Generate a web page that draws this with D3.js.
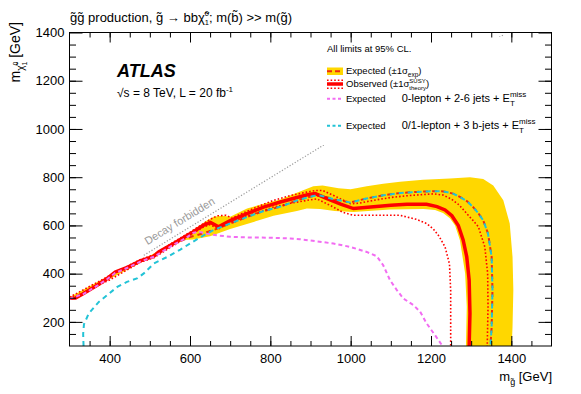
<!DOCTYPE html>
<html>
<head>
<meta charset="utf-8">
<script src="https://cdn.jsdelivr.net/npm/d3@7"></script>
<style>
  body { margin: 0; background: #fff; }
  svg { font-family: "Liberation Sans", Arial, Helvetica, sans-serif; }
</style>
</head>
<body>
<svg id="chart" width="581" height="394"></svg>
<script>
"use strict";

// axis ranges and tick values
const xDomain = [300, 1500],
      yDomain = [100, 1400];
const xTicks = [400, 600, 800, 1000, 1200, 1400];
const yTicks = [200, 400, 600, 800, 1000, 1200, 1400];
const xMinor = d3.range(350, 1500, 50);
const yMinor = d3.range(150, 1400, 50);

// kinematic boundary (decay forbidden above)
const decayLine = [[485, 476], [1380, 1390]];

// +-1 sigma expected band edges
const bandUpper = [[300,302],[400,393],[500,474],[560,532],[600,572],[640,618],[659,636],[680,640],[700,636],[742,670],[783,690],[825,708],[866,735],[907,762],[930,766],[970,754],[1000,750],[1040,762],[1081,773],[1123,781],[1180,789],[1247,795],[1297,800],[1330,792],[1355,766],[1380,704],[1396,608],[1403,469],[1405,332],[1403,180],[1401,100]];
const bandLower = [[300,294],[400,378],[500,465],[560,520],[585,540],[608,542],[650,555],[700,585],[750,610],[808,640],[866,660],[891,670],[924,668],[960,660],[1007,656],[1098,666],[1181,668],[1210,664],[1230,652],[1247,630],[1260,600],[1272,539],[1285,401],[1289,263],[1287,100]];

// expected limit (combined)
const expected = [[300,296],[335,316],[369,350],[394,378],[414,405],[447,426],[476,451],[510,470],[559,522],[600,552],[630,566],[660,582],[700,608],[742,635],[780,658],[825,678],[874,708],[907,722],[924,724],[960,708],[999,695],[1040,712],[1081,725],[1123,734],[1164,739],[1206,742],[1231,741],[1255,732],[1272,718],[1290,700],[1305,676],[1318,650],[1330,621],[1342,566],[1351,469],[1353,332],[1351,180],[1348,100]];

// observed limit and its theory +-1 sigma
const observed = [[300,298],[315,299],[335,318],[369,352],[394,380],[414,407],[447,428],[476,453],[510,472],[522,490],[559,525],[601,566],[634,601],[651,612],[671,594],[700,620],[742,649],[783,676],[825,697],[866,716],[895,728],[912,732],[941,711],[975,688],[1007,670],[1057,677],[1100,684],[1140,688],[1189,688],[1215,678],[1235,664],[1252,640],[1268,600],[1280,540],[1289,470],[1295,373],[1297,236],[1295,100]];
const obsUp = [[300,302],[400,392],[476,458],[510,478],[560,532],[600,572],[634,608],[650,625],[668,640],[690,642],[705,630],[725,646],[766,676],[808,704],[850,724],[891,738],[912,745],[930,745],[960,722],[1000,690],[1020,692],[1057,704],[1100,716],[1140,723],[1180,728],[1206,731],[1230,726],[1250,710],[1270,685],[1289,649],[1305,620],[1318,594],[1334,511],[1341,401],[1342,263],[1340,100]];
const obsDown = [[300,294],[400,374],[476,447],[510,466],[560,518],[600,560],[634,594],[650,603],[671,586],[700,612],[725,628],[766,652],[808,676],[850,692],[891,704],[916,710],[949,683],[980,655],[1007,642],[1057,642],[1123,642],[1164,625],[1189,608],[1206,585],[1220,555],[1235,511],[1246,440],[1249,330],[1249,100]];

// other analyses, expected
const zeroLepton = [[300,296],[335,316],[369,350],[394,378],[414,403],[447,426],[476,450],[510,470],[559,520],[590,548],[609,570],[625,573],[642,566],[667,559],[700,553],[750,550],[800,549],[850,546],[874,543],[916,534],[957,525],[999,511],[1040,490],[1065,472],[1081,435],[1098,373],[1115,332],[1131,297],[1156,270],[1173,242],[1189,194],[1210,145],[1227,104],[1229,100]];
const threeB = [[335,100],[334,150],[336,190],[348,235],[373,283],[394,311],[419,345],[443,366],[468,380],[485,401],[510,442],[543,469],[576,500],[600,525],[630,555],[660,582],[700,608],[742,635],[780,658],[825,678],[874,708],[907,722],[924,724],[960,708],[999,695],[1040,712],[1081,725],[1123,734],[1164,739],[1206,742],[1231,741],[1255,732],[1272,718],[1290,700],[1305,676],[1318,650],[1330,621],[1342,566],[1351,469],[1353,332],[1351,180],[1348,100]];

const RED = "#ff0000", GOLD = "#ffd700", MAGENTA = "#f26cf2", CYAN = "#22c3d6", EXPRED = "#ee2a10";

const svg = d3.select("#chart");
const margin = {top: 32.5, right: 29.5, bottom: 48, left: 69.5};
const W = 581 - margin.left - margin.right,
      H = 394 - margin.top - margin.bottom;

const x = d3.scaleLinear().domain(xDomain).range([0, W]);
const y = d3.scaleLinear().domain(yDomain).range([H, 0]);
const line = d3.line().x(d => x(d[0])).y(d => y(d[1]));

const g = svg.append("g").attr("transform", `translate(${margin.left},${margin.top})`);
g.append("defs").append("clipPath").attr("id", "clip")
  .append("rect").attr("width", W).attr("height", H);
const plot = g.append("g").attr("clip-path", "url(#clip)");

// text with super/subscripts
function rich(parent, px, py, size, parts) {
  const t = parent.append("text").attr("x", px).attr("y", py).attr("font-size", size);
  let cur = 0, prev = null;
  parts.forEach(p => {
    if (typeof p === "string") p = {t: p};
    const off = p.dy || 0;
    const ts = t.append("tspan").text(p.t)
      .attr("dy", off - cur)
      .attr("font-size", p.s || size);
    if (p.stack && prev) ts.attr("dx", -prev.node().getComputedTextLength());
    cur = off;
    prev = ts;
  });
  return t;
}

// decay forbidden diagonal
plot.append("path")
  .attr("d", line(decayLine))
  .attr("fill", "none")
  .attr("stroke", "#9a9a9a")
  .attr("stroke-width", 1.2)
  .attr("stroke-dasharray", "1.2,1.8");

plot.append("text")
  .attr("transform", `translate(${x(494)},${y(518)}) rotate(-31.5)`)
  .attr("font-size", 11)
  .attr("fill", "#999")
  .text("Decay forbidden");

// legend background hides the diagonal
g.append("rect")
  .attr("x", 318 - margin.left).attr("y", 37 - margin.top)
  .attr("width", 552 - 318).attr("height", 145 - 37)
  .attr("fill", "#fff");

// yellow band
plot.append("path")
  .attr("d", line(bandUpper.concat(bandLower.slice().reverse())) + "Z")
  .attr("fill", GOLD);

function curve(data, color, width, dash) {
  plot.append("path")
    .attr("d", line(data))
    .attr("fill", "none")
    .attr("stroke", color)
    .attr("stroke-width", width)
    .attr("stroke-dasharray", dash || null);
}

curve(expected, EXPRED, 2, "5,4");
curve(obsUp, RED, 1.6, "1.6,2");
curve(obsDown, RED, 1.6, "1.6,2");
curve(observed, RED, 3.5);
curve(threeB, CYAN, 2, "5,4");
curve(zeroLepton, MAGENTA, 2, "4,3");

// axes
function drawAxis(gen, tr, major, minor, size, labels) {
  const a = g.append("g").attr("transform", tr);
  a.call(gen.tickValues(minor).tickSize(-size / 2).tickFormat(""));
  a.selectAll(".domain").remove();
  const b = g.append("g").attr("transform", tr);
  b.call(gen.tickValues(major).tickSize(-size).tickFormat(labels ? d3.format("d") : ""));
  b.selectAll(".domain").remove();
  b.selectAll("text").attr("font-size", 13).attr("font-family", null).attr("fill", "#000");
  return b;
}

drawAxis(d3.axisBottom(x).tickPadding(7.5), `translate(0,${H})`, xTicks, xMinor, 10, true);
drawAxis(d3.axisTop(x), "translate(0,0)", xTicks, xMinor, 10, false);
drawAxis(d3.axisLeft(y).tickPadding(5), "translate(0,0)", yTicks, yMinor, 13, true);
drawAxis(d3.axisRight(y), `translate(${W},0)`, yTicks, yMinor, 13, false);

g.append("rect")
  .attr("width", W).attr("height", H)
  .attr("fill", "none").attr("stroke", "#000").attr("stroke-width", 1);

// axis titles
rich(svg, 552, 381, 13, ["m", {t: "g\u0303", dy: 4, s: 9}, {t: " [GeV]", dy: 0}])
  .attr("text-anchor", "end");

rich(svg, 0, 0, 14, ["m", {t: "\u03C7\u0303", dy: 4.5, s: 10}, {t: "0", dy: -1.5, s: 7}, {t: "1", dy: 7.5, s: 7, stack: true}, {t: " [GeV]", dy: 0}])
  .attr("text-anchor", "end")
  .attr("transform", "translate(19.5,22) rotate(-90)");

// title
rich(svg, 70, 21.7, 13, ["g\u0303g\u0303 production, g\u0303 \u2192 bb\u03C7\u0303", {t: "0", dy: -6, s: 7.5}, {t: "1", dy: 3.5, s: 7.5, stack: true}, {t: "; m(b\u0303) >> m(g\u0303)", dy: 0}]);

// ATLAS label
svg.append("text")
  .attr("x", 117).attr("y", 76.7)
  .attr("font-size", 18).attr("font-weight", "bold").attr("font-style", "italic")
  .text("ATLAS");
rich(svg, 117, 96.7, 12, ["\u221As = 8 TeV, L = 20 fb", {t: "-1", dy: -5, s: 8}]);

// legend
const lg = svg.append("g");
lg.append("text").attr("x", 327).attr("y", 52.3).attr("font-size", 9.5).text("All limits at 95% CL.");

const sx = [327, 343];
lg.append("rect").attr("x", sx[0]).attr("y", 67.5).attr("width", sx[1] - sx[0]).attr("height", 7.5).attr("fill", GOLD);
function sample(yy, color, width, dash) {
  lg.append("line")
    .attr("x1", sx[0]).attr("x2", sx[1]).attr("y1", yy).attr("y2", yy)
    .attr("stroke", color).attr("stroke-width", width)
    .attr("stroke-dasharray", dash || null);
}
sample(71.2, EXPRED, 2, "5,3");
sample(80.2, RED, 1.6, "1.6,2");
sample(84, RED, 3.5);
sample(88.2, RED, 1.6, "1.6,2");
sample(98.7, MAGENTA, 2, "3,2.5");
sample(125.7, CYAN, 2, "3,2.5");

rich(lg, 346, 74.3, 9.5, ["Expected (\u00B11\u03C3", {t: "exp", dy: 2.5, s: 6.5}, {t: ")", dy: 0}]);
rich(lg, 346, 87.2, 9.5, ["Observed (\u00B11\u03C3", {t: "SUSY", dy: -4.5, s: 6}, {t: "theory", dy: 2.5, s: 6, stack: true}, {t: ")", dy: 0}]);
lg.append("text").attr("x", 346).attr("y", 102.2).attr("font-size", 9.5).text("Expected");
lg.append("text").attr("x", 346).attr("y", 128.5).attr("font-size", 9.5).text("Expected");
rich(lg, 401.7, 102.4, 11, ["0-lepton + 2-6 jets + E", {t: "miss", dy: -5, s: 8}, {t: "T", dy: 3.5, s: 8, stack: true}]);
rich(lg, 401.7, 129, 11, ["0/1-lepton + 3 b-jets + E", {t: "miss", dy: -5, s: 8}, {t: "T", dy: 3.5, s: 8, stack: true}]);
</script>
</body>
</html>
